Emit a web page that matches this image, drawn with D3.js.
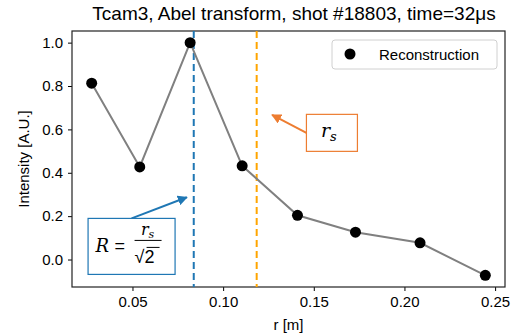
<!DOCTYPE html>
<html>
<head>
<meta charset="utf-8">
<script src="https://cdn.jsdelivr.net/npm/d3@7"></script>
<style>
  body { margin: 0; background: #fff; }
  text { font-family: "Liberation Sans", Arial, sans-serif; }
  .math { font-family: "DejaVu Serif", "Liberation Serif", serif; font-style: italic; }
</style>
</head>
<body>
<script>
// radius positions [m] and reconstructed intensity
const rValues = [0.0275, 0.054, 0.0818, 0.1105, 0.141, 0.173, 0.2086, 0.2446];
const intensity = [0.813, 0.427, 1.0, 0.432, 0.204, 0.126, 0.077, -0.073];
const xTicks = [0.05, 0.10, 0.15, 0.20, 0.25];
const yTicks = [0.0, 0.2, 0.4, 0.6, 0.8, 1.0];
const rS = 0.1185;
const rR = rS / Math.SQRT2;

const width = 515, height = 334;
const margin = {top: 31, right: 10, bottom: 47, left: 72};
const fs = 15;

const svg = d3.select("body").append("svg")
  .attr("width", width).attr("height", height);

// matplotlib style 5% padding
const xExt = d3.extent(rValues), yExt = d3.extent(intensity);
const xPad = (xExt[1] - xExt[0]) * 0.05, yPad = (yExt[1] - yExt[0]) * 0.05;

const x = d3.scaleLinear()
  .domain([xExt[0] - xPad, xExt[1] + xPad])
  .range([margin.left, width - margin.right]);
const y = d3.scaleLinear()
  .domain([yExt[0] - yPad, yExt[1] + yPad])
  .range([height - margin.bottom, margin.top]);

svg.append("g")
  .attr("transform", `translate(0,${height - margin.bottom})`)
  .call(d3.axisBottom(x).tickValues(xTicks).tickFormat(d3.format(".2f")).tickSizeOuter(0).tickSize(4).tickPadding(5))
  .call(g => g.selectAll("text").attr("font-size", fs).attr("fill", "#000"))
  .call(g => g.select(".domain").remove());

svg.append("g")
  .attr("transform", `translate(${margin.left},0)`)
  .call(d3.axisLeft(y).tickValues(yTicks).tickFormat(d3.format(".1f")).tickSizeOuter(0).tickSize(4).tickPadding(5))
  .call(g => g.selectAll("text").attr("font-size", fs).attr("fill", "#000"))
  .call(g => g.select(".domain").remove());

// frame
svg.append("rect")
  .attr("x", margin.left).attr("y", margin.top)
  .attr("width", width - margin.left - margin.right)
  .attr("height", height - margin.top - margin.bottom)
  .attr("fill", "none").attr("stroke", "#222").attr("stroke-width", 1.2);

// vertical dashed lines
svg.append("line")
  .attr("x1", x(rR)).attr("x2", x(rR))
  .attr("y1", margin.top).attr("y2", height - margin.bottom)
  .attr("stroke", "#1f77b4").attr("stroke-width", 2).attr("stroke-dasharray", "7,4");
svg.append("line")
  .attr("x1", x(rS)).attr("x2", x(rS))
  .attr("y1", margin.top).attr("y2", height - margin.bottom)
  .attr("stroke", "#ffa500").attr("stroke-width", 2).attr("stroke-dasharray", "7,4");

const pts = rValues.map((r, i) => [r, intensity[i]]);
svg.append("path")
  .datum(pts)
  .attr("fill", "none").attr("stroke", "#808080").attr("stroke-width", 2)
  .attr("d", d3.line().x(d => x(d[0])).y(d => y(d[1])));

svg.append("g").selectAll("circle")
  .data(pts).join("circle")
  .attr("cx", d => x(d[0])).attr("cy", d => y(d[1]))
  .attr("r", 5.5).attr("fill", "#000");

// arrow markers
const defs = svg.append("defs");
[["arrOrange", "#ed7d31"], ["arrBlue", "#1f77b4"]].forEach(([id, c]) => {
  defs.append("marker").attr("id", id)
    .attr("viewBox", "0 0 10 10").attr("refX", 9).attr("refY", 5)
    .attr("markerWidth", 5).attr("markerHeight", 5).attr("orient", "auto")
    .append("path").attr("d", "M0,0 L10,5 L0,10 z").attr("fill", c);
});

// r_s annotation
const sTip = [x(0.127), y(0.667)];
const sBox = {cx: x(0.160), cy: y(0.584), w: 51, h: 37};
svg.append("line")
  .attr("x1", sBox.cx - sBox.w / 2).attr("y1", sBox.cy)
  .attr("x2", sTip[0]).attr("y2", sTip[1])
  .attr("stroke", "#ed7d31").attr("stroke-width", 2).attr("marker-end", "url(#arrOrange)");
svg.append("rect")
  .attr("x", sBox.cx - sBox.w / 2).attr("y", sBox.cy - sBox.h / 2)
  .attr("width", sBox.w).attr("height", sBox.h)
  .attr("fill", "#fff").attr("stroke", "#ed7d31").attr("stroke-width", 1.2);
const sT = svg.append("text").attr("class", "math")
  .attr("x", sBox.cx - 11).attr("y", sBox.cy + 4).attr("font-size", 19);
sT.append("tspan").text("r");
sT.append("tspan").attr("font-size", 13).attr("dy", 4).text("s");

// R annotation
const rTip = [x(0.080), y(0.287)];
const rBox = {cx: x(0.0495), cy: y(0.0605), w: 87, h: 56};
svg.append("line")
  .attr("x1", rBox.cx).attr("y1", rBox.cy - rBox.h / 2)
  .attr("x2", rTip[0]).attr("y2", rTip[1])
  .attr("stroke", "#1f77b4").attr("stroke-width", 2).attr("marker-end", "url(#arrBlue)");
svg.append("rect")
  .attr("x", rBox.cx - rBox.w / 2).attr("y", rBox.cy - rBox.h / 2)
  .attr("width", rBox.w).attr("height", rBox.h)
  .attr("fill", "#fff").attr("stroke", "#1f77b4").attr("stroke-width", 1.2);
const fx = rBox.cx, fy = rBox.cy;
svg.append("text").attr("class", "math")
  .attr("x", fx - 36).attr("y", fy + 6).attr("font-size", 18).text("R");
svg.append("text")
  .attr("x", fx - 17).attr("y", fy + 6).attr("font-size", 18)
  .attr("font-family", "DejaVu Serif").text("=");
const num = svg.append("text").attr("class", "math")
  .attr("x", fx + 16).attr("y", fy - 11).attr("font-size", 16).attr("text-anchor", "middle");
num.append("tspan").text("r");
num.append("tspan").attr("font-size", 11).attr("dy", 3).text("s");
svg.append("line")
  .attr("x1", fx + 3).attr("x2", fx + 30).attr("y1", fy - 6).attr("y2", fy - 6)
  .attr("stroke", "#000").attr("stroke-width", 1);
svg.append("text")
  .attr("x", fx + 3).attr("y", fy + 17).attr("font-size", 18)
  .attr("font-family", "DejaVu Serif").text("√2");
svg.append("line")
  .attr("x1", fx + 15).attr("x2", fx + 28).attr("y1", fy + 1).attr("y2", fy + 1)
  .attr("stroke", "#000").attr("stroke-width", 1);

// legend
const lg = svg.append("g").attr("transform", `translate(${width - margin.right - 173},${margin.top + 9})`);
lg.append("rect").attr("width", 165).attr("height", 29).attr("rx", 3)
  .attr("fill", "#fff").attr("fill-opacity", 0.8).attr("stroke", "#d0d0d0");
lg.append("circle").attr("cx", 18).attr("cy", 14).attr("r", 5.5).attr("fill", "#000");
lg.append("text").attr("x", 47).attr("y", 19.5).attr("font-size", fs).text("Reconstruction");

// labels
svg.append("text")
  .attr("x", 294).attr("y", 20)
  .attr("text-anchor", "middle").attr("font-size", 19)
  .text("Tcam3, Abel transform, shot #18803, time=32μs");
svg.append("text")
  .attr("x", (margin.left + width - margin.right) / 2).attr("y", 330)
  .attr("text-anchor", "middle").attr("font-size", fs).text("r [m]");
svg.append("text")
  .attr("transform", `translate(29,${(margin.top + height - margin.bottom) / 2}) rotate(-90)`)
  .attr("text-anchor", "middle").attr("font-size", fs).text("Intensity [A.U.]");
</script>
</body>
</html>
